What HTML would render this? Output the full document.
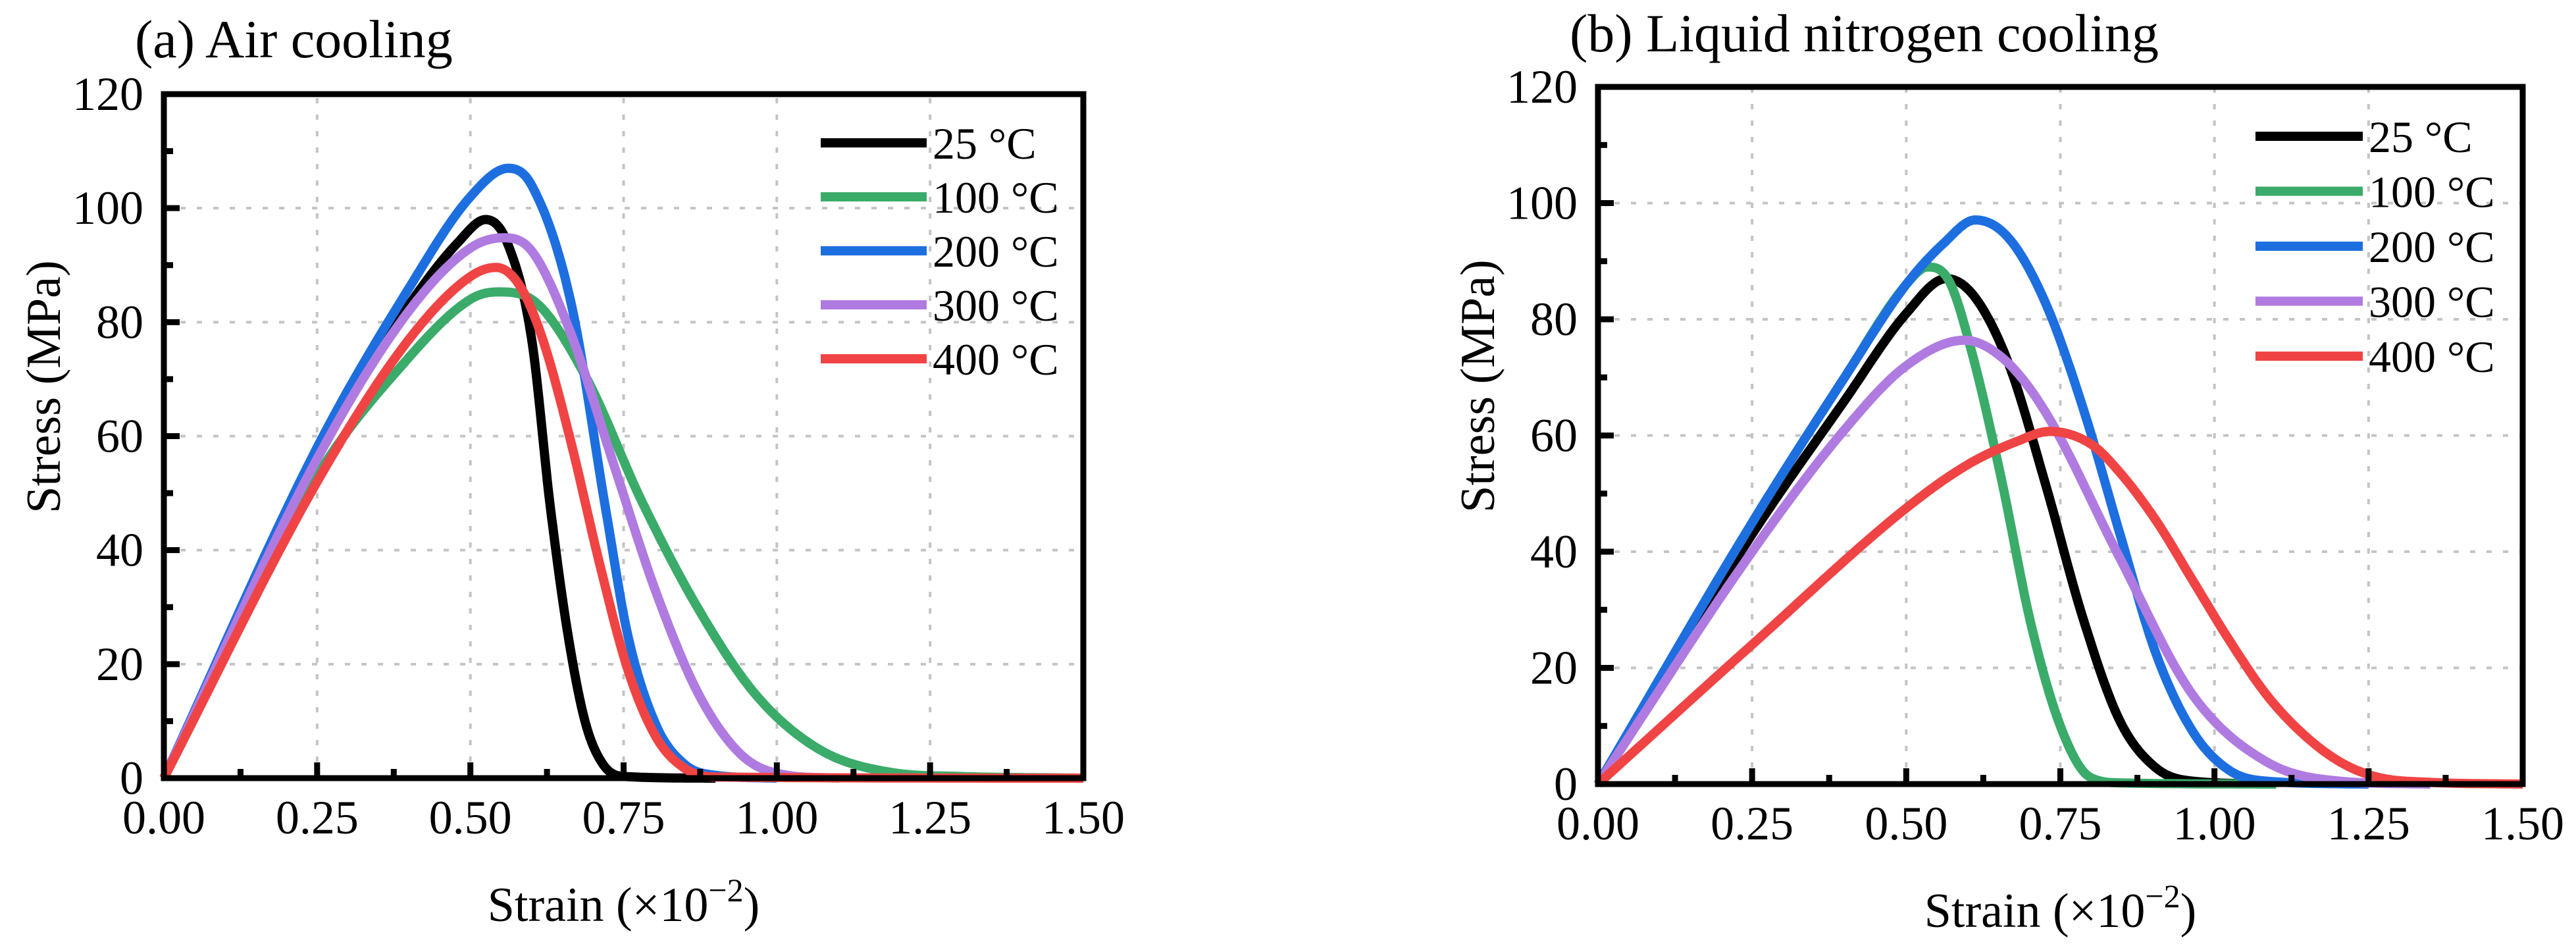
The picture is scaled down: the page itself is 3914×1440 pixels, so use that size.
<!DOCTYPE html>
<html><head><meta charset="utf-8">
<style>
html,body{margin:0;padding:0;background:#fff;}
svg{display:block;}
text{font-family:"Liberation Serif","DejaVu Serif","Times New Roman",serif;fill:#000;}
</style></head>
<body>
<svg id="chart" width="3914" height="1440" viewBox="0 0 3914 1440" xmlns="http://www.w3.org/2000/svg" font-family="Liberation Serif, DejaVu Serif, serif"></svg>
<script>
// ---- data ----
const xTicks = [0, 0.25, 0.5, 0.75, 1.0, 1.25, 1.5];
const xTickLabels = ["0.00","0.25","0.50","0.75","1.00","1.25","1.50"];
const yTicks = [0, 20, 40, 60, 80, 100, 120];
const yTickLabels = ["0","20","40","60","80","100","120"];
const seriesNames = ["25 °C","100 °C","200 °C","300 °C","400 °C"];

// Panel (a) Air cooling
const a25x  = [0, 0.25, 0.4, 0.48, 0.525, 0.56, 0.6, 0.63, 0.658, 0.687, 0.716, 0.75, 0.9];
const a25y  = [0, 57, 83, 94, 98, 94, 77, 48, 26, 10, 2.5, 0.3, 0];
const a100x = [0, 0.25, 0.385, 0.5, 0.545, 0.6, 0.687, 0.78, 0.873, 0.966, 1.07, 1.187, 1.3, 1.5];
const a100y = [0, 53, 72, 84, 85.3, 84, 70.7, 48.5, 29.5, 14.6, 5, 1, 0.3, 0];
const a200x = [0, 0.25, 0.4, 0.5, 0.562, 0.6, 0.664, 0.722, 0.757, 0.803, 0.85, 0.9, 1.0];
const a200y = [0, 58, 86, 102, 107, 104, 83.5, 46.4, 25, 9.3, 2.4, 0.5, 0];
const a300x = [0, 0.25, 0.4, 0.5, 0.554, 0.6, 0.664, 0.734, 0.803, 0.873, 0.943, 1.012, 1.1];
const a300y = [0, 56, 82, 93, 94.8, 92.5, 78, 55, 32.6, 14.6, 4, 0.6, 0];
const a400x = [0, 0.25, 0.4, 0.5, 0.542, 0.58, 0.618, 0.664, 0.71, 0.757, 0.803, 0.85, 0.9, 1.5];
const a400y = [0, 52, 77, 88, 89.6, 86.5, 77, 59, 38, 19, 7.2, 1.7, 0.2, 0];

// Panel (b) Liquid nitrogen cooling
const b25x  = [0, 0.25, 0.4, 0.5, 0.565, 0.61, 0.666, 0.726, 0.786, 0.846, 0.905, 0.965, 1.1];
const b25y  = [0, 43, 66, 81, 87, 84, 72.4, 51.6, 28.8, 11, 2.8, 0.5, 0];
const b100x = [0, 0.25, 0.4, 0.5, 0.535, 0.57, 0.606, 0.654, 0.702, 0.75, 0.798, 0.85, 1.1];
const b100y = [0, 45, 70, 86, 89, 86.5, 74.5, 52.7, 27.7, 10, 1.2, 0.2, 0];
const b200x = [0, 0.25, 0.4, 0.5, 0.56, 0.612, 0.666, 0.726, 0.786, 0.846, 0.905, 0.965, 1.025, 1.085, 1.25];
const b200y = [0, 45, 70, 86, 93, 97.1, 94, 82.8, 65, 43.3, 22.5, 9, 2.3, 0.5, 0];
const b300x = [0, 0.25, 0.4, 0.5, 0.594, 0.66, 0.726, 0.846, 0.965, 1.085, 1.204, 1.35];
const b300y = [0, 40, 61, 72, 76.4, 73, 64, 39, 15.3, 3.8, 0.5, 0];
const b400x = [0, 0.25, 0.5, 0.6, 0.68, 0.732, 0.8, 0.846, 0.905, 0.965, 1.025, 1.085, 1.145, 1.204, 1.264, 1.35, 1.5];
const b400y = [0, 24, 47.5, 55, 59, 60.7, 58.5, 53.7, 45.4, 35, 24.6, 15.3, 8.5, 3.8, 1.2, 0.3, 0];

const colors = ["#000000","#3bab6a","#1d6fe0","#b07be0","#f04444"];

// ---- drawing ----
const NS = "http://www.w3.org/2000/svg";
const svg = document.getElementById("chart");
function mk(tag, attrs, parent){
  const e = document.createElementNS(NS, tag);
  for (const k in attrs) e.setAttribute(k, attrs[k]);
  (parent||svg).appendChild(e);
  return e;
}
function monotone(xs, ys){
  const n = xs.length, d = [], m = new Array(n);
  for (let i=0;i<n-1;i++) d.push((ys[i+1]-ys[i])/(xs[i+1]-xs[i]));
  m[0]=d[0]; m[n-1]=d[n-2];
  for (let i=1;i<n-1;i++){ m[i] = (d[i-1]*d[i]<=0)?0:(d[i-1]+d[i])/2; }
  for (let i=0;i<n-1;i++){
    if (d[i]===0){ m[i]=0; m[i+1]=0; continue; }
    const a=m[i]/d[i], b=m[i+1]/d[i], s=a*a+b*b;
    if (s>9){ const t=3/Math.sqrt(s); m[i]=t*a*d[i]; m[i+1]=t*b*d[i]; }
  }
  const pts=[];
  for (let i=0;i<n-1;i++){
    const h=xs[i+1]-xs[i];
    for (let k=0;k<20;k++){
      const t=k/20, t2=t*t, t3=t2*t;
      const y=(2*t3-3*t2+1)*ys[i]+(t3-2*t2+t)*h*m[i]+(-2*t3+3*t2)*ys[i+1]+(t3-t2)*h*m[i+1];
      pts.push([xs[i]+t*h, y]);
    }
  }
  pts.push([xs[n-1], ys[n-1]]);
  return pts;
}

function panel(cfg){
  const g = mk("g", {});
  
  
  const X = v => cfg.x0 + (v-0)/(1.5-0)*(cfg.x1-cfg.x0);
  const Y = v => cfg.y0 - (v-0)/(120-0)*(cfg.y0-cfg.y1);
  for (let i=1;i<xTicks.length-1;i++){
    const l = mk("line",{x1:X(xTicks[i]),x2:X(xTicks[i]),y1:cfg.y0,y2:cfg.y1,stroke:"#c4c4c4","stroke-width":4,"stroke-dasharray":"8 17"},g);
    
    
  }
  for (let i=1;i<yTicks.length-1;i++){
    const l = mk("line",{x1:cfg.x0,x2:cfg.x1,y1:Y(yTicks[i]),y2:Y(yTicks[i]),stroke:"#c4c4c4","stroke-width":4,"stroke-dasharray":"8 17"},g);
    
    
  }
  cfg.series.forEach((s,idx)=>{
    const pts = monotone(s[0], s[1]);
    const d = pts.map((p,i)=>(i?"L":"M")+X(p[0]).toFixed(1)+","+Y(Math.max(0,p[1])).toFixed(1)).join("");
    const p = mk("path",{d:d,fill:"none",stroke:colors[idx],"stroke-width":14,"stroke-linejoin":"round"},g);
    
    
  });
  for (let v=0; v<=1.5001; v+=0.125){
    const major = Math.abs(v/0.25-Math.round(v/0.25))<1e-6;
    const t = mk("line",{x1:X(v),x2:X(v),y1:cfg.y0,y2:cfg.y0-(major?24:14),stroke:"#000","stroke-width":9},g);
    
    
  }
  for (let v=0; v<=120; v+=10){
    const major = v%20===0;
    const t = mk("line",{x1:cfg.x0,x2:cfg.x0+(major?24:14),y1:Y(v),y2:Y(v),stroke:"#000","stroke-width":9},g);
    
    
  }
  const fr = mk("rect",{x:cfg.x0,y:cfg.y1,width:cfg.x1-cfg.x0,height:cfg.y0-cfg.y1,fill:"none",stroke:"#000","stroke-width":9},g);
  
  
  xTicks.forEach((v,i)=>{
    const t = mk("text",{x:X(v),y:cfg.y0+84,"font-size":72,"text-anchor":"middle"},g);
    t.textContent = xTickLabels[i];
    
    
  });
  yTicks.forEach((v,i)=>{
    const t = mk("text",{x:cfg.x0-31,y:Y(v)+24,"font-size":72,"text-anchor":"end"},g);
    t.textContent = yTickLabels[i];
    
    
  });
  const yt = mk("text",{x:0,y:0,"font-size":74,"text-anchor":"middle",transform:`translate(${cfg.x0-158},${(cfg.y0+cfg.y1)/2-75}) rotate(-90)`},g);
  yt.textContent = "Stress (MPa)";
  
  
  const xt = mk("text",{x:(cfg.x0+cfg.x1)/2,y:cfg.y0+217,"font-size":74,"text-anchor":"middle"},g);
  
  
  xt.appendChild(document.createTextNode("Strain (×10"));
  const sup = document.createElementNS(NS,"tspan");
  sup.setAttribute("dy","-30"); sup.setAttribute("font-size","50");
  sup.textContent = "−2";
  xt.appendChild(sup);
  const cl = document.createElementNS(NS,"tspan");
  cl.setAttribute("dy","30");
  cl.textContent = ")";
  xt.appendChild(cl);
  const tt = mk("text",{x:cfg.tx,y:cfg.ty,"font-size":82},g);
  tt.textContent = cfg.title;
  
  
  const lg = mk("g",{},g);
  
  
  seriesNames.forEach((nm,i)=>{
    const cy = cfg.ly + i*cfg.lgap;
    const l = mk("line",{x1:cfg.lx0,x2:cfg.lx1,y1:cy,y2:cy,stroke:colors[i],"stroke-width":14},lg);
    
    
    const t = mk("text",{x:cfg.lx1+9,y:cy+24,"font-size":68},lg);
    t.textContent = nm;
    
    
  });
}

panel({name:"panel-a-air-cooling", title:"(a) Air cooling", tx:205, ty:87,
  x0:249, x1:1646, y0:1182, y1:143, lx0:1247, lx1:1408, ly:217, lgap:82,
  series:[[a25x,a25y],[a100x,a100y],[a200x,a200y],[a300x,a300y],[a400x,a400y]]});
panel({name:"panel-b-liquid-nitrogen-cooling", title:"(b) Liquid nitrogen cooling", tx:2385, ty:78,
  x0:2428, x1:3833, y0:1191, y1:132, lx0:3427, lx1:3590, ly:207, lgap:83.5,
  series:[[b25x,b25y],[b100x,b100y],[b200x,b200y],[b300x,b300y],[b400x,b400y]]});
</script>
</body></html>
